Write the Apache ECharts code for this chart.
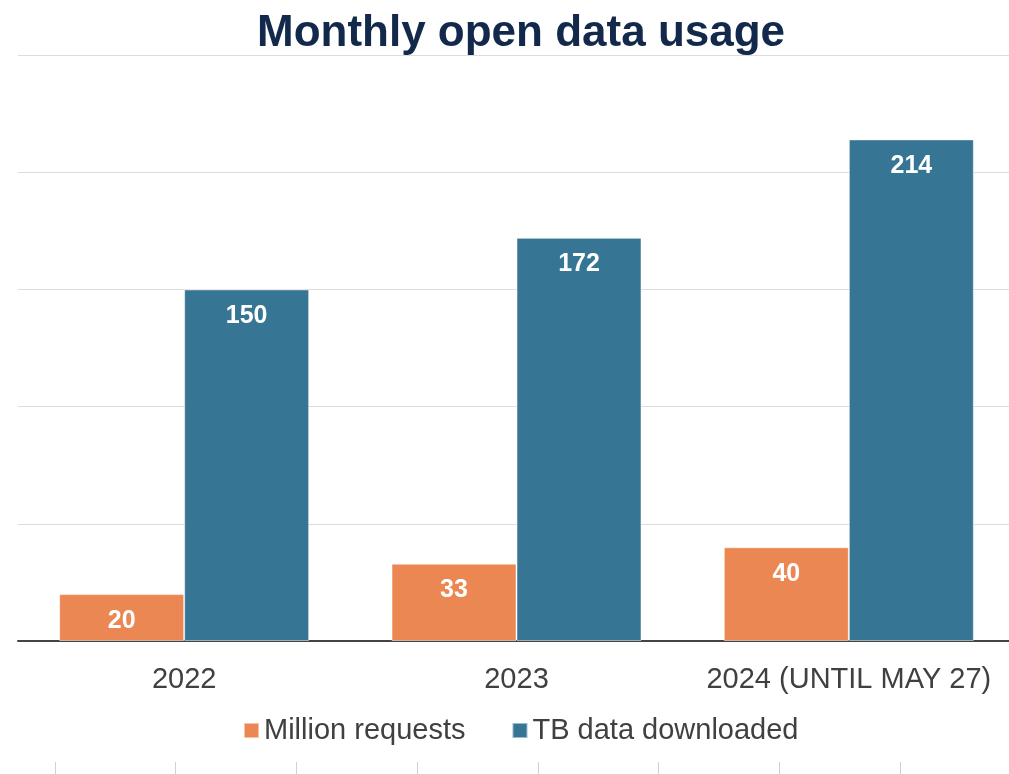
<!DOCTYPE html>
<html>
<head>
<meta charset="utf-8">
<title>Monthly open data usage</title>
<script src="https://cdn.jsdelivr.net/npm/echarts@6/dist/echarts.min.js"></script>
<style>
  html, body { margin: 0; padding: 0; background: #fff; }
  #chart { width: 1009px; height: 774px; }
</style>
</head>
<body>
<div id="chart"></div>
<script>
// data
var years = ['2022', '2023', '2024 (UNTIL MAY 27)'];
var millionRequests = [20, 33, 40];
var tbDownloaded = [150, 172, 214];
// faint tick marks along the bottom edge (cut-off axis of a chart below)
var footerTicks = ['', '', '', '', '', '', ''];

var font = 'Liberation Sans, Arial, Helvetica, sans-serif';

var barLabel = {
    show: true,
    position: 'insideTop',
    distance: 14,
    color: '#fff',
    fontSize: 25,
    fontWeight: 'bold',
    fontFamily: font
};

var chart = echarts.init(document.getElementById('chart'));

chart.setOption({
    animation: false,
    title: {
        text: 'Monthly open data usage',
        left: 252,
        top: 7,
        textStyle: {
            fontFamily: font,
            fontSize: 44,
            fontWeight: 'bold',
            color: '#13294b'
        }
    },
    legend: {
        data: ['Million requests', 'TB data downloaded'],
        left: 238,
        top: 711,
        itemWidth: 15,
        itemHeight: 15,
        itemGap: 46,
        icon: 'rect',
        textStyle: {
            fontFamily: font,
            fontSize: 29,
            color: '#404040'
        }
    },
    grid: [
        {left: 18, width: 997, top: 55, bottom: 133, outerBoundsMode: 'none'},
        {left: 55, right: 109, top: 762, height: 12, outerBoundsMode: 'none'}
    ],
    xAxis: [
        {
            type: 'category',
            gridIndex: 0,
            data: years,
            axisLine: {lineStyle: {color: '#444', width: 2}},
            axisTick: {show: false},
            axisLabel: {
                interval: 0,
                fontFamily: font,
                fontSize: 29,
                color: '#404040',
                margin: 24
            }
        },
        {
            type: 'category',
            gridIndex: 1,
            data: footerTicks,
            axisLine: {show: false},
            axisTick: {show: true, inside: true, length: 12, lineStyle: {color: '#d0d0d0'}},
            axisLabel: {show: false}
        }
    ],
    yAxis: [
        {
            type: 'value',
            gridIndex: 0,
            min: 0,
            max: 250,
            interval: 50,
            axisLine: {show: false},
            axisTick: {show: false},
            axisLabel: {show: false},
            splitLine: {lineStyle: {color: '#dcdcdc', width: 1}}
        },
        {
            type: 'value',
            gridIndex: 1,
            show: false
        }
    ],
    series: [
        {
            name: 'Million requests',
            type: 'bar',
            data: millionRequests,
            barWidth: 125,
            barGap: '0%',
            itemStyle: {color: '#eb8752', borderColor: 'rgba(255,255,255,0.5)', borderWidth: 1},
            label: barLabel
        },
        {
            name: 'TB data downloaded',
            type: 'bar',
            data: tbDownloaded,
            barWidth: 125,
            barGap: '0%',
            itemStyle: {color: '#377594', borderColor: 'rgba(255,255,255,0.5)', borderWidth: 1},
            label: barLabel
        }
    ]
});
</script>
</body>
</html>
